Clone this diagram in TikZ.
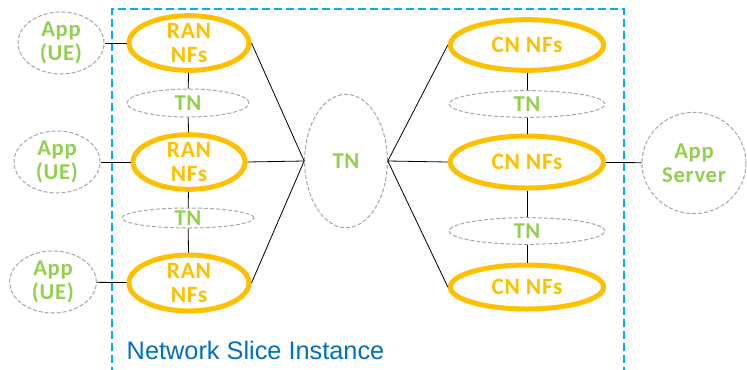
\documentclass[tikz,border=0pt]{standalone}
\usepackage{fontspec}
\setmainfont[LetterSpace=3]{Carlito}
\newfontfamily\slicefont{Liberation Sans}
\usepackage{xcolor}
\usepackage{tikz}
\usetikzlibrary{shapes.geometric}
\definecolor{nforange}{RGB}{255,192,0}
\definecolor{tngreen}{RGB}{146,208,80}
\definecolor{slicecyan}{RGB}{0,176,240}
\definecolor{sliceblue}{RGB}{0,112,192}
\definecolor{tngray}{RGB}{166,166,166}
\tikzset{
  nf/.style={ellipse, draw=nforange, line width=3.75pt, inner sep=0pt},
  tn/.style={ellipse, draw=tngray, line width=0.75pt, dash pattern=on 3pt off 1.5pt, inner sep=0pt},
  nftxt/.style={text=nforange, font=\bfseries\fontsize{17.5}{18}\selectfont, align=center, inner sep=0pt},
  tntxt/.style={text=tngreen, font=\bfseries\fontsize{17}{18}\selectfont, align=center, inner sep=0pt},
  link/.style={draw, line width=0.6pt}
}

\begin{document}
\begin{tikzpicture}[x=0.75pt, y=-0.75pt]
\useasboundingbox (0,0) rectangle (747,369);
% slice border
\draw[slicecyan, line width=1.5pt, dash pattern=on 6pt off 3pt] (112,375) -- (112,9) -- (624,9) -- (624,375);
\node[anchor=base west, text=sliceblue, font=\slicefont\fontsize{19}{20}\selectfont] at (122,359) (slice) {Network Slice Instance};
% UE side
\node[tn, minimum width=64.5pt, minimum height=46.5pt] at (61,43)  (ue1) {};
\node[tn, minimum width=64.5pt, minimum height=46.5pt] at (57,162) (ue2) {};
\node[tn, minimum width=65pt,   minimum height=46.5pt] at (53,282) (ue3) {};
\node[tntxt] at (ue1) (ue1t) {App\\(UE)};
\node[tntxt] at (ue2) (ue2t) {App\\(UE)};
\node[tntxt] at (ue3) (ue3t) {App\\(UE)};
% RAN
\node[nf, minimum width=90pt, minimum height=41pt] at (189,43)  (ran1) {};
\node[nf, minimum width=84pt, minimum height=41pt] at (189,162) (ran2) {};
\node[nf, minimum width=90pt, minimum height=42pt] at (189,283) (ran3) {};
\node[nftxt] at (ran1) (ran1t) {RAN\\NFs};
\node[nftxt] at (ran2) (ran2t) {RAN\\NFs};
\node[nftxt] at (ran3) (ran3t) {RAN\\NFs};
\node[tn, minimum width=91.5pt, minimum height=21pt] at (188,103) (tnr1) {};
\node[tn, minimum width=99pt,   minimum height=15pt] at (188,218) (tnr2) {};
\node[tntxt] at (tnr1) (tnr1t) {TN};
\node[tntxt] at (tnr2) (tnr2t) {TN};
% central TN
\node[tn, minimum width=62pt, minimum height=100pt] at (346,161) (tn) {};
\node[tntxt] at (tn) (tnt) {TN};
% CN
\node[nf, minimum width=115pt, minimum height=38pt] at (527,45)  (cn1) {};
\node[nf, minimum width=115pt, minimum height=39pt] at (527,162) (cn2) {};
\node[nf, minimum width=115pt, minimum height=33pt] at (527,287) (cn3) {};
\node[nftxt] at (cn1) (cn1t) {CN NFs};
\node[nftxt] at (cn2) (cn2t) {CN NFs};
\node[nftxt] at (cn3) (cn3t) {CN NFs};
\node[tn, minimum width=117pt, minimum height=20pt] at (527,104) (tnc1) {};
\node[tn, minimum width=117pt, minimum height=20pt] at (527,231) (tnc2) {};
\node[tntxt] at (tnc1) (tnc1t) {TN};
\node[tntxt] at (tnc2) (tnc2t) {TN};
% server
\node[tn, minimum width=78pt, minimum height=76pt] at (694,163) (srv) {};
\node[tntxt] at (srv) (srvt) {App\\Server};
% links
\draw[link] (ue1) -- (ran1);
\draw[link] (ue2) -- (ran2);
\draw[link] (ue3) -- (ran3);
\draw[link] (ran1) -- (tnr1);
\draw[link] (tnr1) -- (ran2);
\draw[link] (ran2) -- (tnr2);
\draw[link] (tnr2) -- (ran3);
\draw[link] (ran1.east) -- (tn.west);
\draw[link] (ran2.east) -- (tn.west);
\draw[link] (ran3.east) -- (tn.west);
\draw[link] (tn.east) -- (cn1.west);
\draw[link] (tn.east) -- (cn2.west);
\draw[link] (tn.east) -- (cn3.west);
\draw[link] (cn1) -- (tnc1);
\draw[link] (tnc1) -- (cn2);
\draw[link] (cn2) -- (tnc2);
\draw[link] (tnc2) -- (cn3);
\draw[link] (cn2) -- (srv);
\end{tikzpicture}
\end{document}
